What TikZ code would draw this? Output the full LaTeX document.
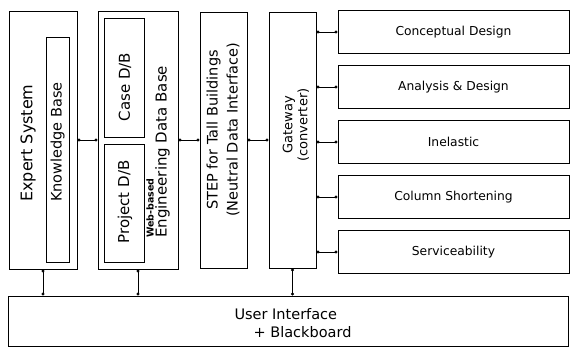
\documentclass[tikz,border=0pt]{standalone}
\usepackage{fontspec}
\setmainfont{DejaVu Sans}
\usetikzlibrary{positioning,arrows.meta}

\begin{document}
\begin{tikzpicture}[x=1pt, y=1pt,
  every node/.style={inner sep=0pt},
  box/.style={rectangle, draw=black, line width=1pt},
  inbox/.style={rectangle, draw=black, line width=0.8pt},
  vtxt/.style={rotate=90, align=center, font=\fontsize{14.5}{20}\selectfont},
  tool/.style={box, minimum width=231pt, minimum height=43pt,
               font=\fontsize{12.3}{15}\selectfont},
  ln/.style={{Circle[length=3pt]}-{Circle[length=3pt]}, line width=0.8pt}
]
  \useasboundingbox (0,0) rectangle (573,-349);

  % expert system
  \node[box, minimum width=68pt, minimum height=258pt] (es) at (43,-140) {};
  \node[inbox, minimum width=23pt, minimum height=225pt] (kb) at (57.5,-149.5) {};
  \node[vtxt, font=\fontsize{16}{18}\selectfont] (esT) at (28,-143) {Expert System};
  \node[vtxt] (kbT) at (57.5,-142) {Knowledge Base};

  % engineering data base
  \node[box, minimum width=80pt, minimum height=258pt] (web) at (138,-140) {};
  \node[inbox, minimum width=40pt, minimum height=119pt] (case) at (124,-77.5) {};
  \node[inbox, minimum width=40pt, minimum height=118pt] (proj) at (124,-203) {};
  \node[vtxt, font=\fontsize{15}{18}\selectfont] (caseT) at (125,-87) {Case D/B};
  \node[vtxt, font=\fontsize{15}{18}\selectfont] (projT) at (125,-202) {Project D/B};
  \node[vtxt, anchor=south west, align=left, font=\fontsize{15}{13}\selectfont]
    (webT) at (170,-238) {{\fontsize{9.5}{11}\selectfont\bfseries Web-based}\\Engineering Data Base};

  % step and gateway
  \node[box, minimum width=47pt, minimum height=256pt] (step) at (223.5,-140) {};
  \node[vtxt] (stepT) at (223,-130) {STEP for Tall Buildings\\(Neutral Data Interface)};
  \node[box, minimum width=47pt, minimum height=256pt] (gw) at (292.5,-140) {};
  \node[vtxt, font=\fontsize{13}{15}\selectfont] (gwT) at (296,-125) {Gateway\\(converter)};

  % analysis tools
  \node[tool] (cd) at (453.5,-32) {Conceptual Design};
  \node[tool, below=11pt of cd] (ad) {Analysis \& Design};
  \node[tool, below=11pt of ad] (ie) {Inelastic};
  \node[tool, below=11pt of ie] (cs) {Column Shortening};
  \node[tool, below=11pt of cs] (sv) {Serviceability};

  % user interface
  \node[box, minimum width=560pt, minimum height=50pt] (ui) at (288,-321) {};
  \node[align=left, font=\fontsize{14.5}{18}\selectfont] (uiT) at (293,-323)
    {User Interface\\\hspace*{19pt}+ Blackboard};

  \draw[ln] (es) -- (web);
  \draw[ln] (web) -- (step);
  \draw[ln] (step) -- (gw);
  \foreach \t in {cd,ad,ie,cs,sv}
    \draw[ln] (gw.east |- \t.west) -- (\t.west);
  \draw[ln] (es.south) -- (es.south |- ui.north);
  \draw[ln] (web.south) -- (web.south |- ui.north);
  \draw[ln] (gw.south) -- (gw.south |- ui.north);
\end{tikzpicture}
\end{document}
